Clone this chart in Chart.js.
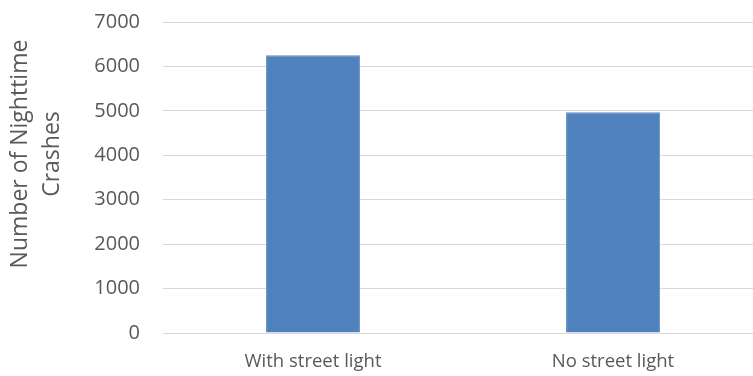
<!DOCTYPE html>
<html>
<head>
<meta charset="utf-8">
<script src="https://cdn.jsdelivr.net/npm/chart.js@4/dist/chart.umd.min.js"></script>
<style>
  html, body { margin: 0; padding: 0; background: #fff; overflow: hidden; }
  #wrap { width: 763px; height: 376px; }
</style>
</head>
<body>
<div id="wrap"><canvas id="crashChart" width="763" height="376"></canvas></div>
<script>
// chart data
var categories = ["With street light", "No street light"];
var crashes = [6250, 4970];
var yTicks = [0, 1000, 2000, 3000, 4000, 5000, 6000, 7000];
var yTitle = ["Number of Nighttime", "Crashes"];

var labelColor = "#595959";
var fontFamily = "'Open Sans', 'Liberation Sans', sans-serif";

// y axis title sits a bit above the plot centre, like the original
const yTitlePlugin = {
  id: "yTitle",
  afterDraw: function (chart) {
    var ctx = chart.ctx;
    ctx.save();
    ctx.fillStyle = labelColor;
    ctx.font = "23px " + fontFamily;
    ctx.textAlign = "center";
    ctx.textBaseline = "middle";
    yTitle.forEach(function (line, i) {
      ctx.save();
      ctx.translate(20 + i * 32, 154);
      ctx.rotate(-Math.PI / 2);
      ctx.fillText(line, 0, 0);
      ctx.restore();
    });
    ctx.restore();
  }
};

const crashChart = new Chart("crashChart", {
  type: "bar",
  data: {
    labels: categories,
    datasets: [{
      label: "Crashes",
      data: crashes,
      backgroundColor: "#4f81bd",
      borderColor: "#5b8cc6",
      borderWidth: 1,
      categoryPercentage: 1,
      barPercentage: 0.313
    }]
  },
  plugins: [yTitlePlugin],
  options: {
    responsive: false,
    animation: false,
    layout: { padding: { top: 22, left: 4, right: 0, bottom: 0 } },
    plugins: {
      legend: { display: false },
      tooltip: { enabled: false }
    },
    scales: {
      x: {
        grid: { display: false, drawTicks: false },
        border: { color: "#d9d9d9", width: 1 },
        ticks: {
          color: labelColor,
          font: { family: fontFamily, size: 18.5 },
          padding: 18,
          maxRotation: 0
        },
        afterFit: function (scale) { scale.height = 43; }
      },
      y: {
        min: 0,
        max: yTicks[yTicks.length - 1],
        afterBuildTicks: function (axis) {
          axis.ticks = yTicks.map(function (v) { return { value: v }; });
        },
        grid: { color: "#d9d9d9", drawTicks: false },
        border: { display: false },
        ticks: {
          color: labelColor,
          font: { family: fontFamily, size: 20 },
          padding: 23,
          callback: function (v) { return String(v); }
        },
        title: { display: false },
        afterFit: function (scale) {
          scale.width = 159;
          scale.paddingTop = 0;
          scale.paddingBottom = 0;
        }
      }
    }
  }
});
</script>
</body>
</html>
